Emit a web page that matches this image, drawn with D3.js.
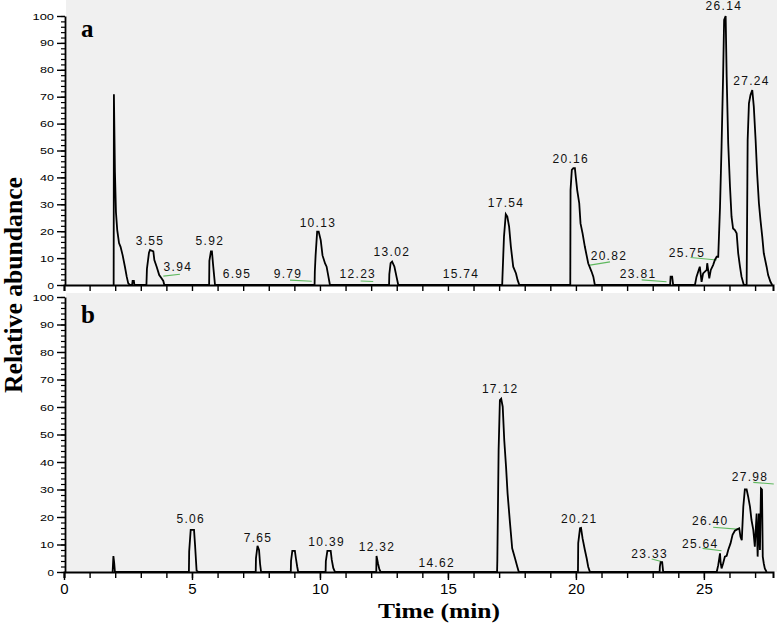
<!DOCTYPE html>
<html><head><meta charset="utf-8">
<script src="https://cdn.jsdelivr.net/npm/d3@7"></script>
<style>
html,body{margin:0;padding:0;background:#fff;}
svg{display:block;}
</style></head>
<body>
<svg id="chart" width="777" height="624"></svg>
<script>
// ---------- data ----------
const timeTicks = [0, 5, 10, 15, 20, 25];
const timeMinorTicks = d3.range(0, 28, 1);
const abundanceTicks = [0, 10, 20, 30, 40, 50, 60, 70, 80, 90, 100];
const abundanceMinorTicks = d3.range(0, 101, 2);
const panelNames = ["a", "b"];

// chromatogram a: [time (min), relative abundance]
const traceA = [
 [1.94,0],[1.95,70.9],[1.99,42],[2.03,27],[2.08,20.4],[2.15,15.6],[2.21,14.2],[2.29,11.1],[2.38,6.8],[2.45,3.1],[2.51,0.6],[2.58,0],[2.66,0],[2.68,1.5],[2.73,1.5],[2.75,0],
 [3.22,0],[3.24,6],[3.32,12],[3.36,13],[3.49,12.5],[3.53,9.3],[3.62,6.8],[3.72,3.7],[3.81,2.5],[3.88,1.5],[3.92,0],
 [5.67,0],[5.68,9],[5.74,12.5],[5.78,12.5],[5.82,8],[5.88,2],[5.9,0],
 [9.79,0],[9.8,5],[9.83,11],[9.89,19.8],[9.95,19.8],[10.03,16.7],[10.1,11],[10.2,8],[10.26,6.8],[10.32,3.7],[10.39,0],
 [12.7,0],[12.71,4],[12.76,8.1],[12.82,8.7],[12.91,6.8],[12.99,3.1],[13.06,0],
 [17.12,0],[17.13,3],[17.19,18],[17.26,26.3],[17.32,25.4],[17.39,21.7],[17.46,14.2],[17.55,6.8],[17.66,4.3],[17.72,1.9],[17.79,0],
 [19.78,0],[19.79,35.3],[19.84,42.8],[19.9,43.4],[19.96,43.4],[20.0,39.7],[20.05,35.3],[20.13,30.4],[20.18,22.9],[20.26,19.2],[20.35,14.2],[20.48,8.1],[20.61,5],[20.68,3.1],[20.74,0],
 [23.68,0],[23.7,3.1],[23.76,3.1],[23.8,0],
 [24.65,0],[24.71,3],[24.84,6.8],[24.91,1.2],[24.97,4.3],[25.11,5.6],[25.13,8.1],[25.21,2.5],[25.27,5.6],[25.36,7.4],[25.43,9.3],[25.5,10.5],[25.56,10.5],[25.63,29],[25.69,51.4],[25.75,77.4],[25.79,98.5],[25.85,100],[25.89,77.4],[25.95,52.7],[26.02,36.5],[26.08,25.4],[26.14,21],[26.21,20.4],[26.28,19.2],[26.34,11.8],[26.41,6.8],[26.47,3.1],[26.56,0],
 [26.67,0],[26.71,54],[26.76,67.5],[26.82,70.6],[26.89,72.5],[26.95,66.3],[27.02,54],[27.08,41.5],[27.15,30.4],[27.21,24.2],[27.28,18],[27.34,11.8],[27.45,6.8],[27.51,3.7],[27.6,1.2],[27.67,0]
];

// chromatogram b
const traceB = [
 [1.9,0],[1.93,5.8],[1.96,3.4],[1.99,0],
 [4.88,0],[4.89,7.4],[4.95,15.3],[5.08,15.3],[5.12,9.8],[5.18,0.5],[5.25,0],
 [7.49,0],[7.5,5],[7.56,9.5],[7.62,8],[7.66,3],[7.7,0],
 [8.86,0],[8.87,4],[8.92,7.7],[9.02,7.7],[9.06,5],[9.11,2],[9.15,0],
 [10.22,0],[10.23,4],[10.29,7.7],[10.42,7.7],[10.46,4.5],[10.52,1.5],[10.59,0],
 [12.2,0],[12.21,5.8],[12.27,3],[12.32,1],[12.37,0],
 [16.92,0],[16.93,4.4],[16.98,44.4],[17.03,62.5],[17.08,63],[17.14,60.1],[17.2,48],[17.27,38.3],[17.33,28.6],[17.42,18.3],[17.51,8.6],[17.62,5],[17.71,1.9],[17.77,0],
 [20.08,0],[20.09,10.5],[20.16,15.9],[20.2,16],[20.26,12.2],[20.35,8],[20.42,5],[20.48,1.9],[20.55,0],
 [23.27,0],[23.28,2],[23.31,3.6],[23.37,3.6],[23.41,0],
 [25.5,0],[25.56,2.5],[25.63,6.8],[25.65,3.8],[25.69,1.3],[25.75,3.1],[25.82,5.6],[25.89,5.9],[25.95,8],[26.04,10.4],[26.12,13.5],[26.21,15],[26.3,15.5],[26.38,15.9],[26.43,12.8],[26.48,11.6],[26.54,23.8],[26.6,30],[26.67,30],[26.73,27.4],[26.8,23.8],[26.86,18.9],[26.93,15.3],[26.99,9.2],[27.06,21.3],[27.1,5.6],[27.15,21.3],[27.19,8],[27.23,30.4],[27.27,30],[27.3,5.6],[27.34,3.1],[27.38,1.3],[27.45,0]
];

// peak labels: [text, time, abundance]
const peakLabelsA = [
 ["3.55",3.36,14.9],["3.94",4.45,5.2],["5.92",5.70,14.9],["6.95",6.76,2.6],["9.79",8.75,2.5],
 ["10.13",9.92,21.7],["12.23",11.48,2.5],["13.02",12.81,10.9],["15.74",15.51,2.5],["17.54",17.27,28.9],
 ["20.16",19.80,45.5],["20.82",21.29,9.3],["23.81",22.43,2.5],["25.75",24.34,10.5],["26.14",25.78,102.2],["27.24",26.86,74.3]
];
const peakLabelsB = [
 ["5.06",4.95,17.9],["7.65",7.58,11.0],["10.39",10.26,9.6],["12.32",12.23,7.7],["14.62",14.56,1.7],
 ["17.12",17.04,65.0],["20.21",20.13,17.9],["23.33",22.88,5.2],["25.64",24.86,8.8],["26.40",25.25,17.1],["27.98",26.80,33.1]
];
// integration baseline marks: [t1, v1, t2, v2]
const baselinesA = [
 [3.88,3.3,4.53,4.0],[8.83,1.8,9.68,1.4],[11.59,1.5,12.08,1.3],[20.55,7.4,21.33,8.6],[22.57,1.9,23.54,1.2],[24.48,10.2,25.5,9.3]
];
const baselinesB = [
 [22.96,4.7,23.34,3.8],[24.95,8.6,25.69,7.7],[25.36,16.3,26.41,15.5],[26.93,32.6,27.73,32.0]
];

// ---------- drawing ----------
const svg = d3.select("#chart");
const x = d3.scaleLinear().domain([0, 27.7]).range([64, 773]);
const yA = d3.scaleLinear().domain([0, 100]).range([285, 16]);
const yB = d3.scaleLinear().domain([0, 100]).range([572, 297]);

const panels = [
  {name: panelNames[0], y: yA, trace: traceA, labels: peakLabelsA, bases: baselinesA, top: 0, showX: false},
  {name: panelNames[1], y: yB, trace: traceB, labels: peakLabelsB, bases: baselinesB, top: 293, showX: true}
];

const sans = "'Liberation Sans', Arial, sans-serif";
const serif = "'Liberation Serif', 'Times New Roman', serif";

panels.forEach(p => {
  const g = svg.append("g");
  const y0 = p.y(0);
  g.append("rect").attr("x", 66).attr("y", p.top).attr("width", 777 - 66).attr("height", y0 - p.top)
    .attr("fill", "#f0f0f0");

  // baseline marks
  g.selectAll("line.base").data(p.bases).join("line").attr("class", "base")
    .attr("x1", d => x(d[0])).attr("y1", d => p.y(d[1]))
    .attr("x2", d => x(d[2])).attr("y2", d => p.y(d[3]))
    .attr("stroke", "#5fb85f").attr("stroke-width", 1.1);

  // trace
  const line = d3.line().x(d => x(d[0])).y(d => p.y(d[1]));
  g.append("path").datum(p.trace).attr("d", line)
    .attr("fill", "none").attr("stroke", "#000").attr("stroke-width", 1.8).attr("stroke-linejoin", "miter");

  // y minor ticks
  const yMinor = g.append("g").attr("transform", "translate(65,0)")
    .call(d3.axisLeft(p.y).tickValues(abundanceMinorTicks).tickSize(4).tickFormat(""));
  yMinor.select(".domain").remove();
  yMinor.selectAll("line").attr("stroke-width", 1.2);
  // y major
  const yAx = g.append("g").attr("transform", "translate(65,0)")
    .call(d3.axisLeft(p.y).tickValues(abundanceTicks).tickSize(8).tickSizeOuter(0).tickPadding(3));
  yAx.select(".domain").attr("stroke-width", 1.8);
  yAx.selectAll("line").attr("stroke-width", 1.4);
  yAx.selectAll("text").attr("font-family", sans).attr("font-size", 9.5)
    .attr("textLength", d => String(d).length * 7.5 - 1).attr("lengthAdjust", "spacingAndGlyphs");

  // x axis
  const xMinor = g.append("g").attr("transform", `translate(0,${y0})`)
    .call(d3.axisBottom(x).tickValues(timeMinorTicks).tickSize(6).tickFormat(""));
  xMinor.select(".domain").attr("stroke-width", 2);
  xMinor.selectAll("line").attr("stroke-width", 1.4);
  if (p.showX) {
    const xAx = g.append("g").attr("transform", `translate(0,${y0})`)
      .call(d3.axisBottom(x).tickValues(timeTicks).tickSize(8).tickSizeOuter(0).tickPadding(3));
    xAx.select(".domain").remove();
    xAx.selectAll("line").attr("stroke-width", 1.4);
    xAx.selectAll("text").attr("font-family", sans).attr("font-size", 15);
  }

  // peak labels
  g.selectAll("text.peak").data(p.labels).join("text").attr("class", "peak")
    .attr("x", d => x(d[1])).attr("y", d => p.y(d[2]))
    .attr("text-anchor", "middle").attr("font-family", sans).attr("font-size", 12)
    .attr("letter-spacing", 1.3).attr("fill", "#111").text(d => d[0]);

  // panel letter
  g.append("text").attr("x", 81).attr("y", p.top + (p.showX ? 30 : 37))
    .attr("font-family", serif).attr("font-weight", "bold").attr("font-size", 25).text(p.name);
});

// axis titles
svg.append("text").attr("transform", "translate(22,285) rotate(-90)")
  .attr("text-anchor", "middle").attr("font-family", serif).attr("font-weight", "bold")
  .attr("font-size", 26).attr("textLength", 216).attr("lengthAdjust", "spacingAndGlyphs")
  .text("Relative abundance");
svg.append("text").attr("x", 439).attr("y", 618)
  .attr("text-anchor", "middle").attr("font-family", serif).attr("font-weight", "bold")
  .attr("font-size", 20).attr("textLength", 122).attr("lengthAdjust", "spacingAndGlyphs")
  .text("Time (min)");
</script>
</body></html>
